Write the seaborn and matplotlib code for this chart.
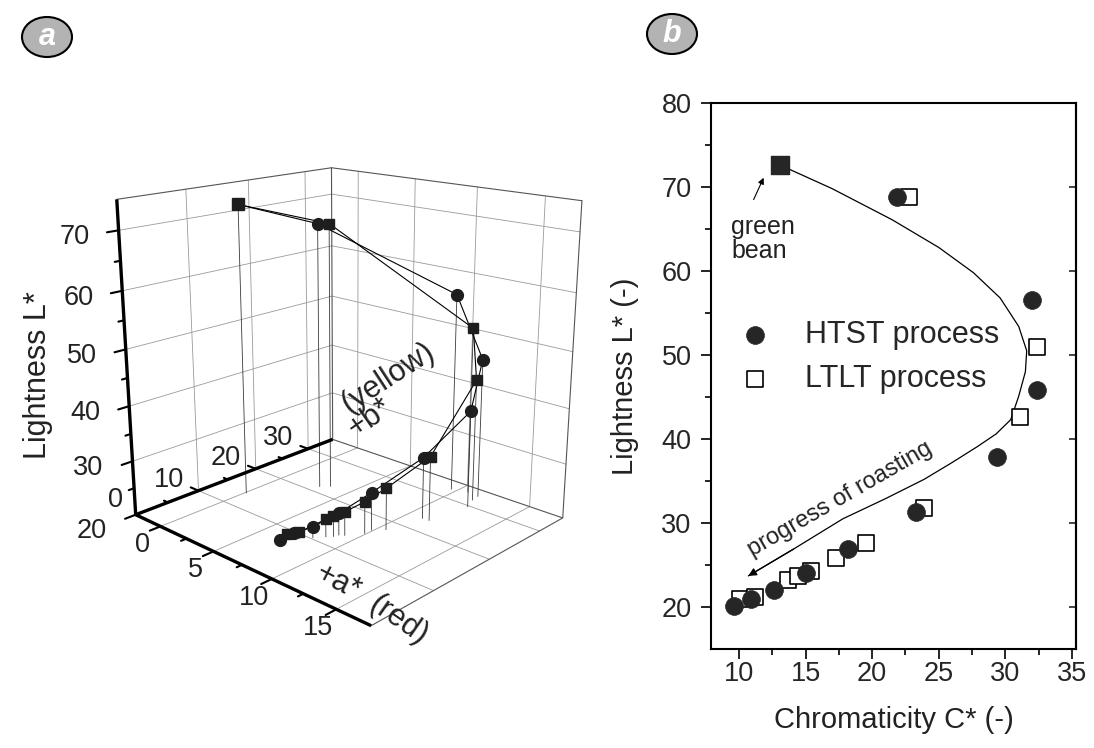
import numpy as np
import matplotlib
matplotlib.use("Agg")
import matplotlib.pyplot as plt
import seaborn as sns
from matplotlib.patches import Ellipse

sns.set_theme(style="white")
plt.rcParams["font.family"] = ["Liberation Sans", "DejaVu Sans"]

# ---------------- panel b data: chromaticity C* and lightness L* ----------------
htst_C = [9.6, 10.9, 12.6, 15.0, 18.2, 23.3, 29.4, 32.4, 32.0, 21.9]
htst_L = [20.1, 21.0, 22.0, 24.0, 26.9, 31.3, 37.9, 45.8, 56.6, 68.8]
ltlt_C = [10.1, 11.2, 13.7, 14.4, 15.4, 17.3, 19.5, 23.9, 31.1, 32.4, 22.8]
ltlt_L = [21.0, 21.2, 23.2, 23.7, 24.3, 25.8, 27.6, 31.8, 42.6, 50.9, 68.8]
bean_C = [13.1]
bean_L = [72.6]
# hand-drawn trend curve
curve_C = [13.1, 17.0, 21.5, 25.0, 27.6, 29.6, 31.0, 31.6, 31.5, 31.0, 30.4,
           29.3, 27.9, 26.0, 23.9, 21.0, 17.8, 14.1, 10.7]
curve_L = [72.6, 69.8, 66.1, 62.8, 59.8, 56.8, 53.4, 50.5, 48.0, 45.1, 42.3,
           40.6, 39.1, 37.2, 35.2, 32.9, 30.5, 26.9, 23.7]
xticks_b = [10, 15, 20, 25, 30, 35]
yticks_b = [20, 30, 40, 50, 60, 70, 80]

# ---------------- panel a data: a*, b*, L* ----------------
htst_a = [6.8, 7.3, 8.0, 8.9, 9.9, 11.1, 12.1, 11.6, 9.6, 2.9]
htst_b = [7.2, 8.6, 10.3, 12.9, 16.5, 23.2, 29.7, 33.1, 32.6, 21.6]
ltlt_a = [7.0, 7.5, 8.5, 8.8, 9.2, 9.9, 10.5, 11.6, 11.7, 10.7, 3.4]
ltlt_b = [7.9, 9.0, 11.5, 12.2, 13.3, 15.3, 17.8, 23.3, 31.7, 33.3, 22.6]
bean_a = [0.1]
bean_b = [13.7]
a_ticks = [0, 5, 10, 15]
b_ticks = [0, 10, 20, 30]
L_ticks = [20, 30, 40, 50, 60, 70]
a_lim = (-2.5, 17.5)
b_lim = (0, 35)
L_lim = (20, 75)

W, H = 1094, 748
fig = plt.figure(figsize=(W / 100, H / 100), dpi=100)
fig.patch.set_facecolor("white")


def fx(px):
    return px / W


def fy(py):
    return 1 - py / H


# =============================== panel b ===============================
ax2 = fig.add_axes([fx(711), fy(649), fx(1076) - fx(711), fy(103) - fy(649)])
sns.scatterplot(x=ltlt_C, y=ltlt_L, ax=ax2, marker="s", s=135, facecolor="white",
                edgecolor="black", linewidth=1.2, label="LTLT process", zorder=3)
sns.scatterplot(x=htst_C, y=htst_L, ax=ax2, marker="o", s=165, color="#262626",
                edgecolor="#262626", linewidth=0.5, label="HTST process", zorder=4)
ax2.scatter(bean_C, bean_L, marker="s", s=150, color="#262626", zorder=5)
ax2.plot(curve_C, curve_L, color="black", lw=0.9, zorder=2)
ax2.annotate("", xy=(curve_C[-1], curve_L[-1]), xytext=(curve_C[-2], curve_L[-2]),
             arrowprops=dict(arrowstyle="-|>", color="black", lw=0.9,
                             mutation_scale=12, shrinkA=0, shrinkB=0))
ax2.set_xlim(7.9, 35.3)
ax2.set_ylim(15, 80)
ax2.set_xticks(xticks_b)
ax2.set_yticks(yticks_b)
ax2.set_xticks([t + 2.5 for t in xticks_b[:-1]], minor=True)
ax2.set_yticks([t + 5 for t in yticks_b[:-1]], minor=True)
ax2.tick_params(which="both", direction="out", color="black", width=1.2,
                labelsize=19.5, bottom=True, left=True)
ax2.tick_params(which="major", length=7)
ax2.tick_params(which="minor", length=4)
ax2.tick_params(axis="y", pad=7)
ax2.tick_params(axis="x", pad=1.5)
sec = ax2.secondary_yaxis("right")
sec.set_yticks(yticks_b)
sec.tick_params(direction="in", length=5, width=1.2, labelright=False)
for sp in ax2.spines.values():
    sp.set_color("black")
    sp.set_linewidth(1.5)
sec.spines["right"].set_linewidth(1.5)
ax2.set_xlabel("Chromaticity C* (-)", fontsize=21, labelpad=14, color="#222")
ax2.set_ylabel("Lightness L* (-)", fontsize=21, labelpad=16, color="#222")
handles, labels = ax2.get_legend_handles_labels()
order = [labels.index("HTST process"), labels.index("LTLT process")]
ax2.legend([handles[i] for i in order], [labels[i] for i in order],
           loc="center left", bbox_to_anchor=(fx(724), fy(357)),
           bbox_transform=fig.transFigure, frameon=False, fontsize=22,
           handlelength=1.0, handletextpad=1.15, labelspacing=0.45, borderpad=0)
ax2.text(9.4, 63.8, "green\nbean", fontsize=18, ha="left", va="center",
         linespacing=1.0, color="#222")
ax2.annotate("", xy=(11.85, 71.1), xytext=(11.1, 68.5),
             arrowprops=dict(arrowstyle="-|>", color="black", lw=0.8,
                             mutation_scale=9, shrinkA=0, shrinkB=0))
ax2.text(17.6, 32.8, "progress of roasting", fontsize=17, rotation=30,
         ha="center", va="center", rotation_mode="anchor", color="#222")

# =============================== panel a (3D) ===============================
ax3 = fig.add_axes([0.0, 0.08, 0.56, 0.82], projection="3d", computed_zorder=False)
ax3.set_xlim(*a_lim)
ax3.set_ylim(*b_lim)
ax3.set_zlim(*L_lim)
ax3.set_axis_off()
ax3.patch.set_visible(False)
amin, amax = a_lim
bmin, bmax = b_lim
Lmin, Lmax = L_lim

# reference positions (page pixels) of box corners / ticks used to set the view
ref_pts = np.array([
    [amin, 0, 20], [0, 0, 20], [5, 0, 20], [10, 0, 20], [15, 0, 20], [amax, 0, 20],
    [amin, 10, 20], [amin, 20, 20], [amin, 30, 20], [amin, 35, 20],
    [amin, 0, 30], [amin, 0, 40], [amin, 0, 50], [amin, 0, 60], [amin, 0, 70],
    [amin, 0, 75], [amin, 35, 75], [0, 35, 75], [5, 35, 75], [10, 35, 75],
    [15, 35, 75]], float)
ref_px = np.array([
    [135, 517], [160, 532], [213, 552], [272, 580], [337, 607], [372, 625],
    [200, 488], [255, 465], [310, 445], [335, 437],
    [132, 467], [128, 410], [127, 352], [122, 292], [117, 229],
    [118, 197], [335, 170], [360, 173], [415, 179], [474, 185], [540, 190]], float)
tgt = ref_px.copy()
tgt[:, 1] = -tgt[:, 1]


def proj2d(pts):
    M = ax3.get_proj()
    hom = np.column_stack([pts, np.ones(len(pts))]) @ M.T
    return hom[:, :2] / hom[:, 3:4]


def view_err(p):
    el, az, f, by, cz = p
    ax3.view_init(elev=el, azim=az)
    ax3.set_proj_type("persp", focal_length=f)
    ax3.set_box_aspect((1.0, by, cz))
    p2 = proj2d(ref_pts)
    pm, tm = p2.mean(0), tgt.mean(0)
    dp, dt = p2 - pm, tgt - tm
    s = (dp * dt).sum() / (dp ** 2).sum()
    if not np.isfinite(s) or s <= 0:
        return np.inf
    return ((dt - s * dp) ** 2).sum()


params = [15.0, -43.0, 0.4, 0.79, 0.93]
grids = [np.arange(0, 45.01, 0.5), np.arange(-75, -15.01, 0.5),
         np.arange(0.15, 2.001, 0.025), np.arange(0.4, 1.6001, 0.02),
         np.arange(0.5, 1.6001, 0.02)]
for _ in range(8):
    for i, g in enumerate(grids):
        best_e, best_v = np.inf, params[i]
        for v in g:
            trial = list(params)
            trial[i] = v
            e = view_err(trial)
            if e < best_e:
                best_e, best_v = e, v
        params[i] = best_v
view_err(params)

grid = dict(color="#9a9a9a", lw=0.6)
edge = dict(color="#555555", lw=0.8)
for bv in b_ticks[1:]:
    ax3.plot([amin, amin], [bv, bv], [Lmin, Lmax], **grid)
for Lv in L_ticks[1:]:
    ax3.plot([amin, amin], [bmin, bmax], [Lv, Lv], **grid)
for av in a_ticks:
    ax3.plot([av, av], [bmax, bmax], [Lmin, Lmax], **grid)
for Lv in L_ticks[1:]:
    ax3.plot([amin, amax], [bmax, bmax], [Lv, Lv], **grid)
for av in a_ticks:
    ax3.plot([av, av], [bmin, bmax], [Lmin, Lmin], **grid)
for bv in b_ticks[1:]:
    ax3.plot([amin, amax], [bv, bv], [Lmin, Lmin], **grid)
ax3.plot([amin, amin, amax], [bmin, bmax, bmax], [Lmax, Lmax, Lmax], **edge)
ax3.plot([amin, amin], [bmax, bmax], [Lmin, Lmax], **edge)
ax3.plot([amax, amax], [bmax, bmax], [Lmin, Lmax], **edge)
ax3.plot([amax, amax, amin], [bmin, bmax, bmax], [Lmin, Lmin, Lmin], **edge)

for av, bv, Lv in zip(htst_a + ltlt_a + bean_a, htst_b + ltlt_b + bean_b,
                      htst_L + ltlt_L + bean_L):
    ax3.plot([av, av], [bv, bv], [Lmin, Lv], color="#3a3a3a", lw=0.6)
ax3.plot(bean_a + htst_a[::-1], bean_b + htst_b[::-1], bean_L + htst_L[::-1],
         color="black", lw=0.8)
ax3.plot(bean_a + ltlt_a[::-1], bean_b + ltlt_b[::-1], bean_L + ltlt_L[::-1],
         color="black", lw=0.8)
ax3.plot(ltlt_a, ltlt_b, ltlt_L, ls="none", marker="s", ms=7.5, color="#1e1e1e")
ax3.plot(htst_a, htst_b, htst_L, ls="none", marker="o", ms=8.5, color="#1e1e1e")
ax3.plot(bean_a, bean_b, bean_L, ls="none", marker="s", ms=8, color="#1e1e1e")

ax_k = dict(color="black", lw=2.4, solid_capstyle="butt")
tk = dict(color="black", lw=1.5)
ax3.plot([amin, amin], [bmin, bmin], [Lmin, Lmax], **ax_k)
ax3.plot([amin, amin], [bmin, bmax], [Lmin, Lmin], **ax_k)
ax3.plot([amin, amax], [bmin, bmin], [Lmin, Lmin], **ax_k)
for Lv in L_ticks:
    for v, ln in ((Lv, 1.6), (Lv + 5, 0.8)):
        if v < Lmax:
            ax3.plot([amin, amin], [bmin, bmin - ln], [v, v], **tk)
for bv in b_ticks:
    for v, ln in ((bv, 0.8), (bv + 5, 0.4)):
        if 0 < v < bmax:
            ax3.plot([amin, amin - ln], [v, v], [Lmin, Lmin], **tk)
for av in a_ticks:
    for v, ln in ((av, 1.6), (av + 2.5, 0.8)):
        if v < amax:
            ax3.plot([v, v], [bmin, bmin - ln], [Lmin, Lmin], **tk)

# place the 3D box on the page
fig.canvas.draw()
disp = ax3.transData.transform(proj2d(ref_pts))
target = ref_px.copy()
target[:, 1] = H - target[:, 1]
pm, tm = disp.mean(0), target.mean(0)
s = ((disp - pm) * (target - tm)).sum() / ((disp - pm) ** 2).sum()
t = tm - s * pm
pos = ax3.get_position()
x0, y0 = pos.x0 * W, pos.y0 * H
w, h = pos.width * W, pos.height * H
ax3.set_position([(s * x0 + t[0]) / W, (s * y0 + t[1]) / H, s * w / W, s * h / H])
fig.canvas.draw()


def page_xy(pt):
    d = ax3.transData.transform(proj2d(np.array([pt], float)))[0]
    return d[0], H - d[1]


# tick labels of the 3D axes, offset from their ticks as in the reference
for Lv in L_ticks:
    px, py = page_xy([amin, bmin, Lv])
    dy = 16 if Lv == L_ticks[0] else 7
    fig.text(fx(px - 44), fy(py + dy), str(Lv), fontsize=19.5, ha="center",
             va="center", color="#222")
for bv in b_ticks:
    px, py = page_xy([amin, bv, Lmin])
    dx, dy = (-20, -15) if bv == b_ticks[0] else (-30, -11)
    fig.text(fx(px + dx), fy(py + dy), str(bv), fontsize=19.5, ha="center",
             va="center", color="#222")
for av in a_ticks:
    px, py = page_xy([av, bmin, Lmin])
    fig.text(fx(px - 18), fy(py + 19), str(av), fontsize=19.5, ha="center",
             va="center", color="#222")

# axis titles of panel a
fig.text(fx(38), fy(375), "Lightness L*", rotation=90, fontsize=22,
         ha="center", va="center", color="#222")
fig.text(fx(388), fy(378), "(yellow)", rotation=33, fontsize=22,
         ha="center", va="center", color="#222")
fig.text(fx(370), fy(418), "+b*", rotation=35, fontsize=22,
         ha="center", va="center", color="#222")
fig.text(fx(338), fy(582), "+a*", rotation=-27, fontsize=22,
         ha="center", va="center", color="#222")
fig.text(fx(398), fy(620), "(red)", rotation=-35, fontsize=22,
         ha="center", va="center", color="#222")

# panel letters
for cx, cy, letter in ((47, 37, "a"), (672, 34, "b")):
    fig.add_artist(Ellipse((fx(cx), fy(cy)), width=50 / W, height=40 / H,
                           transform=fig.transFigure, facecolor="#b3b3b3",
                           edgecolor="black", lw=1.5))
    fig.text(fx(cx), fy(cy), letter, fontsize=22, style="italic", weight="bold",
             color="white", ha="center", va="center")

fig.savefig("out.png", dpi=100)
